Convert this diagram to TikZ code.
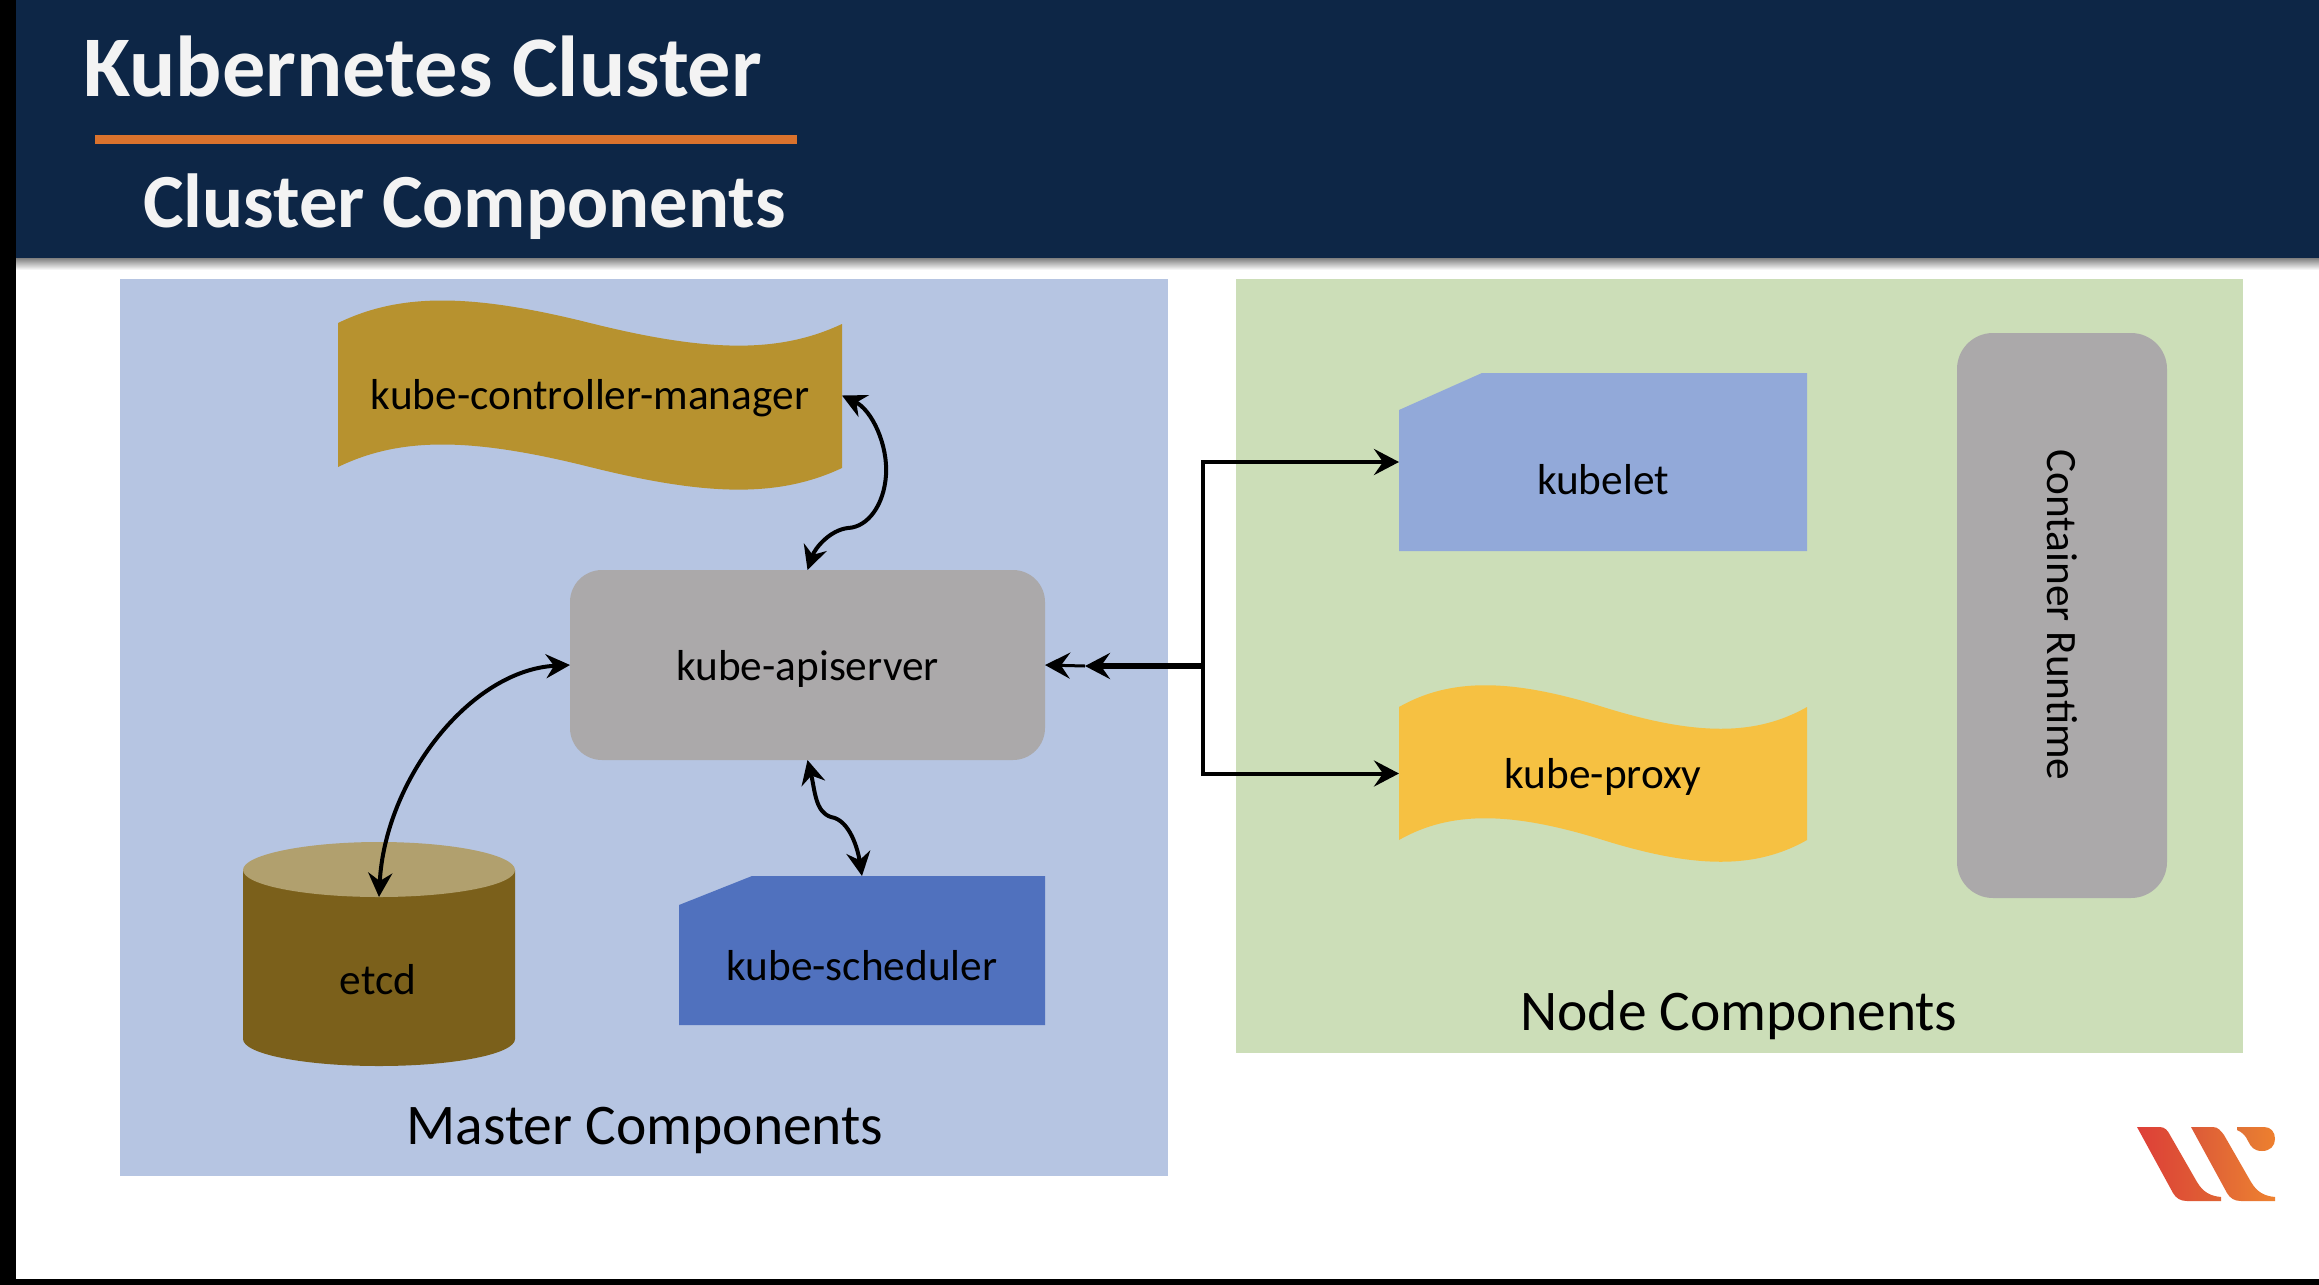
\documentclass[tikz,border=0pt]{standalone}
\usepackage{fontspec}
\setmainfont{Carlito}
\usetikzlibrary{arrows.meta,calc}
\definecolor{navy}{HTML}{0D2646}
\definecolor{rule}{HTML}{D9722D}
\definecolor{panelblue}{HTML}{B6C5E2}
\definecolor{panelgreen}{HTML}{CCDEB8}
\definecolor{apigray}{HTML}{ABA9AA}
\definecolor{ctrlgold}{HTML}{B7922F}
\definecolor{cylbody}{HTML}{7B601B}
\definecolor{cyltop}{HTML}{B1A06E}
\definecolor{schedblue}{HTML}{5071BE}
\definecolor{letblue}{HTML}{92A9D9}
\definecolor{proxyyellow}{HTML}{F6C142}
\definecolor{offwhite}{HTML}{F3F3F3}
\definecolor{logoa}{HTML}{DE3F38}
\definecolor{logob}{HTML}{DF6433}
\definecolor{logoc}{HTML}{DC5A38}
\definecolor{logod}{HTML}{EE8230}
\definecolor{logoe}{HTML}{E07236}
\definecolor{logof}{HTML}{EE7F2E}
\tikzset{
  lbl/.style={anchor=base,inner sep=0pt,font=\fontsize{43.3}{50}\selectfont,text=black},
  caption/.style={anchor=base,inner sep=0pt,font=\fontsize{57.5}{64}\selectfont,text=black},
  hotspot/.style={draw=none,fill=none,inner sep=0pt,outer sep=0pt,rectangle},
  roundbox/.style={fill=apigray,draw=none,rounded corners=32pt,inner sep=0pt,outer sep=0pt,rectangle},
  arr/.style={-{Stealth[length=25pt,width=26pt,inset=9pt]},line width=4pt,black},
  dbl/.style={{Stealth[length=24pt,width=24pt,inset=8pt]}-{Stealth[length=24pt,width=24pt,inset=8pt]},line width=4pt,black},
}
\begin{document}
\begin{tikzpicture}[x=1pt,y=-1pt]
\useasboundingbox (0,0) rectangle (2319,1285);
\fill[white] (0,0) rectangle (2319,1285);
% header
\shade[top color=black!50,bottom color=white] (16,258) rectangle (2319,270);
\fill[navy] (16,0) rectangle (2319,258);
\fill[black] (0,0) rectangle (16,1285);
\fill[black] (0,1279) rectangle (2319,1285);
\node[anchor=base west,inner sep=0pt,text=offwhite,font=\fontsize{86.4}{92}\selectfont\bfseries] (title) at (83,96) {Kubernetes Cluster};
\fill[rule] (95,135) rectangle (797,144);
\node[anchor=base west,inner sep=0pt,text=offwhite,font=\fontsize{76.6}{82}\selectfont\bfseries] (subtitle) at (143,227) {Cluster Components};
% panels
\fill[panelblue] (120,279) rectangle (1168,1176);
\fill[panelgreen] (1236,279) rectangle (2243,1053);
\node[caption] (mastercap) at (645,1144) {Master Components};
\node[caption] (nodecap) at (1739,1030) {Node Components};
% controller
\fill[ctrlgold] (338,323) .. controls (400,293) and (470,293) .. (590,323) .. controls (710,353) and (780,353) .. (842,324)
  -- (842,468) .. controls (780,497) and (710,497) .. (590,467) .. controls (470,437) and (400,437) .. (338,467) -- cycle;
\node[hotspot,minimum width=504pt,minimum height=189pt] (ctrl) at (590,395.5) {};
\node[lbl] (ctrllbl) at (590,409) {kube-controller-manager};
% apiserver
\node[roundbox,minimum width=475pt,minimum height=190pt] (api) at (807.5,665) {};
\node[lbl] (apilbl) at (807.5,680) {kube-apiserver};
% etcd
\fill[cylbody] (243,870) -- (243,1039) .. controls (243,1054) and (304,1066) .. (379,1066) .. controls (454,1066) and (515,1054) .. (515,1039) -- (515,870) -- cycle;
\fill[cyltop] (243,870) .. controls (243,855) and (304,842) .. (379,842) .. controls (454,842) and (515,855) .. (515,870) .. controls (515,885) and (454,897) .. (379,897) .. controls (304,897) and (243,885) .. (243,870) -- cycle;
\coordinate (etcdtop) at (379,897);
\node[lbl] (etcdlbl) at (378,994) {etcd};
% scheduler
\fill[schedblue] (752,876) -- (1045,876) -- (1045,1025) -- (679,1025) -- (679,905) -- cycle;
\node[hotspot,minimum width=366pt,minimum height=149pt] (sched) at (862,950.5) {};
\node[lbl] (schedlbl) at (862,980) {kube-scheduler};
% kubelet
\fill[letblue] (1482,373) -- (1807,373) -- (1807,551) -- (1399,551) -- (1399,410) -- cycle;
\node[hotspot,minimum width=408pt,minimum height=178pt] (kubelet) at (1603,462) {};
\node[lbl] (kubeletlbl) at (1603,494) {kubelet};
% proxy
\fill[proxyyellow] (1399,707) .. controls (1450,678) and (1510,678) .. (1603,707) .. controls (1696,736) and (1756,736) .. (1807,707)
  -- (1807,840) .. controls (1756,869) and (1696,869) .. (1603,840) .. controls (1510,811) and (1450,811) .. (1399,840) -- cycle;
\node[hotspot,minimum width=408pt,minimum height=177pt] (proxy) at (1603,773.5) {};
\node[lbl] (proxylbl) at (1603,788) {kube-proxy};
% runtime
\node[roundbox,rounded corners=36pt,minimum width=210pt,minimum height=565pt] (runtime) at (2062,615.5) {};
\node[inner sep=0pt,rotate=-90,font=\fontsize{43.3}{50}\selectfont,text=black] (runtimelbl) at (2062,615) {Container Runtime};
% bus connectors
\coordinate (bus) at (1203,666);
\coordinate (busmid) at (1085,666);
\draw[arr] (bus |- kubelet.west) -- (kubelet.west);
\draw[arr] (bus |- proxy.west) -- (proxy.west);
\draw[line width=4pt,black,line cap=rect] (bus |- kubelet.west) -- (bus |- proxy.west);
\draw[arr,line width=3pt] (busmid) -- (api.east);
\draw[arr,line width=6pt] (bus) -- (busmid);
% curved connectors
\draw[dbl] (ctrl.east) .. controls (872,410) and (888,445) .. (886,475) .. controls (884,505) and (868,527) .. (848,528) .. controls (830,530) and (815,548) .. (api.north);
\draw[dbl] (api.west) .. controls (470,670) and (385,780) .. (etcdtop);
\draw[dbl] (api.south) .. controls (815,790) and (815,812) .. (831,817) .. controls (850,820) and (858,850) .. (sched.north);
% logo
\shade[left color=logoa,right color=logob] (2137,1127) -- (2160,1127) .. controls (2165,1127) and (2168,1131) .. (2170,1135) -- (2197,1182) .. controls (2203,1192) and (2210,1196) .. (2221,1197) -- (2221,1201) -- (2187,1201) .. controls (2180,1201) and (2176,1198) .. (2173,1193) -- cycle;
\shade[left color=logoc,right color=logod] (2191,1127) -- (2213,1127) .. controls (2218,1127) and (2221,1131) .. (2224,1135) -- (2251,1182) .. controls (2257,1192) and (2264,1196) .. (2275,1197) -- (2275,1201) -- (2241,1201) .. controls (2234,1201) and (2230,1198) .. (2227,1193) -- cycle;
\shade[left color=logoe,right color=logof] (2237,1127) -- (2264,1127) .. controls (2271,1127) and (2275,1132) .. (2275,1139) .. controls (2275,1146) and (2270,1151) .. (2262,1151) .. controls (2254,1151) and (2251,1147) .. (2248,1141) .. controls (2246,1136) and (2242,1132) .. (2237,1130) -- cycle;
\end{tikzpicture}
\end{document}
